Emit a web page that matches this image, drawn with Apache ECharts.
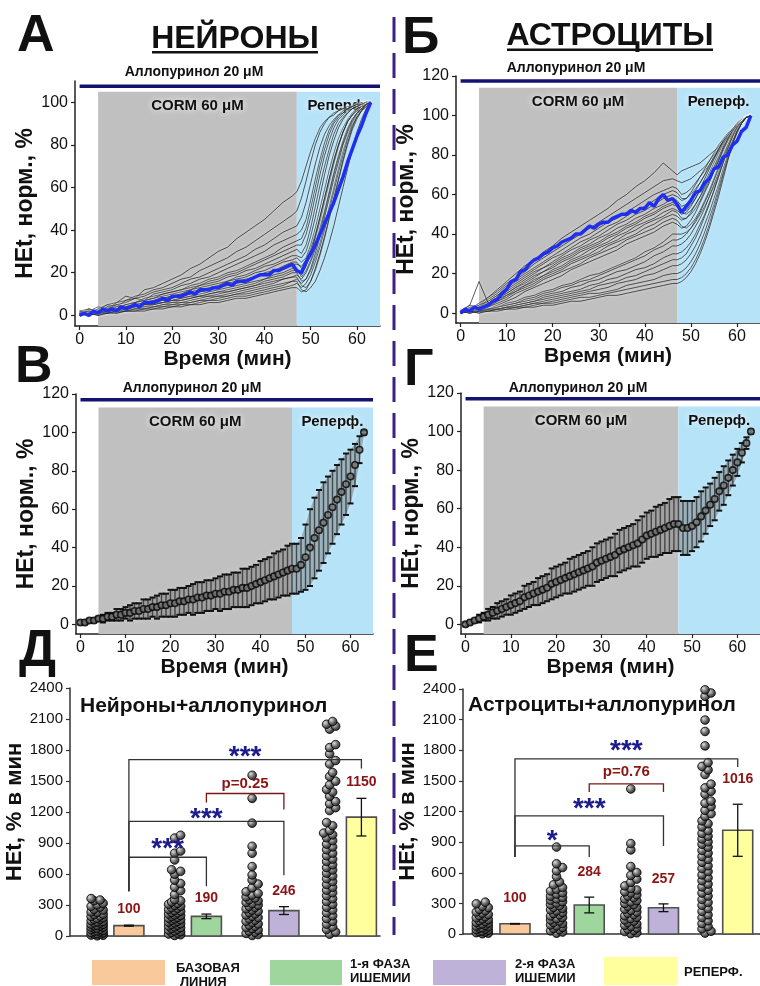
<!DOCTYPE html>
<html>
<head>
<meta charset="utf-8">
<script src="https://cdn.jsdelivr.net/npm/echarts@6/dist/echarts.min.js"></script>
<style>
html,body{margin:0;padding:0;background:#fff}
#chart{width:760px;height:986px}
</style>
</head>
<body>
<div id="chart"></div>
<script>
// ---------- data ----------
// sampling times of the single-cell traces (min)
const TRACE_TIME = [0,2,4,6,8,10,12,14,16,18,20,22,24,26,28,30,32,34,36,38,40,42,44,46,
  47,48,49,50,51,52,53,54,55,56,57,58,59,60,61,62,63];
// one-minute grid for averaged curves
const MINUTES = [0,1,2,3,4,5,6,7,8,9,10,11,12,13,14,15,16,17,18,19,20,21,22,23,24,25,26,27,28,29,30,31,
  32,33,34,35,36,37,38,39,40,41,42,43,44,45,46,47,48,49,50,51,52,53,54,55,56,57,58,59,60,61,62,63];
const TIME_TICKS = [0,10,20,30,40,50,60];
const NORM_TICKS_A = [0,20,40,60,80,100];
const NORM_TICKS = [0,20,40,60,80,100,120];

// experimental phases (min)
const PHASES = [
  {name:'CORM 60 μM', start:4, end:47},
  {name:'Реперф.', start:47, end:65}
];

// neurons: individual HEt traces, normalised to the final value
const NEURON_TRACES = [
  [1,3,2,5,6,9,8,12,13,15,17,19,22,24,27,30,32,36,39,42,45,49,53,56, 58,63,70,77,83,88,91,93,95,96,97,97,98,99,99,100,100],
  [0,2,4,3,6,7,9,10,12,13,15,17,18,21,23,25,27,30,32,35,38,41,44,47, 49,55,63,72,80,86,90,93,94,96,97,98,98,99,99,100,100],
  [2,1,3,5,4,7,8,9,11,12,13,15,17,18,20,22,24,26,28,31,33,36,39,41, 42,46,53,62,71,79,85,89,92,94,96,97,98,98,99,100,100],
  [0,3,2,4,5,6,8,7,10,11,12,14,15,17,18,20,22,24,26,28,30,33,35,37, 38,40,45,54,64,73,81,87,91,94,95,97,98,99,99,100,100],
  [1,0,2,3,5,4,6,8,9,10,11,12,14,15,17,18,20,21,23,25,27,29,32,34, 35,36,41,50,60,70,78,85,90,93,95,97,98,99,99,100,100],
  [0,1,3,2,4,5,6,7,8,10,11,12,13,14,16,17,19,20,22,24,26,28,30,32, 33,33,38,46,56,66,75,82,88,92,94,96,97,98,99,100,100],
  [2,3,1,4,3,5,6,7,8,9,10,11,12,14,15,16,18,19,21,22,24,26,28,30, 31,29,33,41,51,61,70,78,85,90,93,95,97,98,99,99,100],
  [0,2,1,3,4,4,5,6,7,8,9,10,12,13,14,15,16,18,19,21,23,24,26,28, 28,27,30,37,46,56,66,75,82,88,92,95,97,98,99,100,100],
  [1,0,2,2,3,5,4,6,7,8,9,10,11,12,13,14,16,17,18,20,21,23,25,26, 27,25,27,33,41,50,59,68,76,83,88,92,95,97,98,99,100],
  [0,1,2,3,2,4,5,6,6,7,8,9,10,11,12,13,15,16,17,18,20,21,23,25, 25,22,24,29,36,44,53,62,71,79,86,91,94,96,98,99,100],
  [1,2,0,2,3,4,4,5,6,7,8,9,10,11,12,13,14,15,16,18,19,21,22,24, 24,23,26,31,38,46,55,64,72,80,86,91,94,96,98,99,100],
  [0,1,1,2,3,3,4,5,6,6,7,8,9,10,11,12,13,14,15,16,17,19,20,22, 22,18,21,26,33,41,49,58,67,75,82,88,92,95,97,99,100],
  [2,1,2,3,2,4,4,5,5,6,7,8,9,9,10,11,12,13,14,15,17,18,19,21, 21,19,23,29,37,46,55,64,73,80,86,91,94,97,98,99,100],
  [0,0,1,2,2,3,4,4,5,6,6,7,8,9,10,11,11,12,13,14,16,17,18,20, 20,16,17,21,27,34,42,51,60,69,77,84,90,94,97,99,100],
  [1,2,1,2,3,3,4,5,5,6,7,7,8,9,9,10,11,12,13,14,15,16,17,18, 19,17,20,25,31,39,48,57,66,74,81,87,92,95,97,99,100],
  [0,1,0,1,2,3,3,4,4,5,6,6,7,8,9,9,10,11,12,13,14,15,17,18, 18,14,13,16,21,28,36,45,54,63,72,80,87,92,96,98,100],
  [1,0,1,2,1,2,3,3,4,5,5,6,6,7,8,9,9,10,11,12,13,14,15,16, 17,15,17,22,29,37,46,55,64,72,80,86,91,95,97,99,100],
  [0,1,2,1,2,2,3,3,4,4,5,5,6,7,7,8,9,10,10,11,12,13,14,16, 16,12,11,13,16,21,27,34,42,51,60,69,78,86,92,97,100],
  [1,0,1,1,2,2,2,3,3,4,4,5,5,6,7,7,8,9,9,10,11,12,13,14, 15,13,15,19,25,32,40,49,58,67,75,83,89,93,96,99,100],
  [0,1,0,1,1,2,2,2,3,3,4,4,5,5,6,6,7,8,8,9,10,11,12,13, 13,11,12,16,22,29,37,46,55,64,73,81,88,93,96,98,100]
];
// neurons: highlighted mean trace
const NEURON_MEAN_TRACE = [0,1,0,2,1,3,2,3,2,4,3,4,5,4,6,6,6,7,8,7,9,9,9,10,11,10,12,12,12,13,13,14,15,14,16,16,
  16,17,18,19,19,19,21,21,22,23,24,21,20,25,29,33,38,43,48,53,59,65,72,78,84,89,95,100];

// astrocytes: individual HEt traces
const ASTRO_TRACES = [
  [0,3,4,8,12,16,20,24,27,31,34,38,41,44,47,50,53,57,60,64,67,71,76,72, 70,72,73,74,75,76,78,80,82,84,87,89,92,95,97,99,100],
  [1,2,5,8,11,15,18,21,25,28,31,34,37,40,43,46,49,52,55,58,61,64,67,68, 67,66,67,68,70,72,74,77,80,83,86,89,92,95,97,99,100],
  [0,2,3,7,10,14,17,20,23,26,29,32,35,38,40,43,46,48,51,54,57,60,62,64, 63,60,61,63,66,69,72,75,79,82,86,89,92,95,97,99,100],
  [1,4,3,6,9,13,16,19,22,25,28,30,33,36,38,41,44,46,49,52,54,57,60,62, 61,58,58,60,63,66,70,74,78,82,86,89,92,95,97,99,100],
  [0,2,4,6,9,12,15,18,21,23,26,29,32,34,37,39,42,45,47,50,52,55,58,60, 59,57,58,61,65,69,73,77,81,85,88,91,93,95,97,99,100],
  [2,1,3,5,8,11,14,17,20,23,25,28,30,33,35,38,40,43,45,48,50,53,55,58, 57,54,55,58,62,66,70,75,79,83,87,90,93,96,98,99,100],
  [0,3,2,5,7,10,13,16,19,21,24,27,29,32,34,36,39,41,44,46,49,51,54,56, 55,52,52,55,58,62,66,71,76,81,85,89,92,95,97,99,100],
  [1,4,16,5,8,10,13,15,18,21,23,26,28,31,33,35,38,40,43,45,48,50,53,55, 54,51,50,52,55,59,63,68,73,78,83,87,91,94,97,99,100],
  [0,2,3,4,6,9,12,14,17,19,22,24,27,29,32,34,36,39,41,44,46,48,51,53, 52,50,51,54,58,63,68,73,78,83,87,90,93,96,98,99,100],
  [1,1,2,4,7,9,11,14,16,19,21,23,26,28,30,33,35,37,40,42,45,47,49,52, 51,48,48,50,53,57,62,67,72,77,82,87,91,94,97,99,100],
  [0,2,1,3,6,8,11,13,15,18,20,22,25,27,29,31,34,36,38,40,43,45,48,50, 49,47,48,51,55,59,64,69,74,79,84,88,92,95,97,99,100],
  [1,0,2,3,5,7,10,12,14,17,19,21,23,25,28,30,32,34,37,39,41,43,46,48, 47,44,43,45,48,52,57,62,68,74,80,85,90,94,97,99,100],
  [0,1,3,2,4,6,8,11,13,15,17,19,22,24,26,28,30,32,35,37,39,41,44,46, 45,43,44,47,51,56,61,66,72,77,83,88,92,95,97,99,100],
  [0,1,2,2,3,5,6,8,9,11,12,14,15,17,19,20,22,24,26,28,31,33,36,40, 40,40,41,43,46,50,54,59,64,70,76,82,87,92,96,99,100],
  [1,0,1,2,3,4,5,7,8,10,11,13,14,16,17,19,21,23,25,27,29,32,34,37, 37,38,40,43,47,51,56,61,67,73,79,85,90,94,97,99,100],
  [0,1,1,2,3,4,5,6,7,9,10,11,13,14,16,17,19,21,22,24,26,29,31,34, 34,35,37,40,44,48,53,59,65,71,78,84,89,94,97,99,100],
  [1,0,2,1,2,3,4,5,6,8,9,10,11,12,14,15,17,18,20,22,23,25,28,30, 30,31,33,36,40,45,50,56,62,69,76,83,89,93,97,99,100],
  [0,1,0,2,2,3,4,5,6,7,8,9,10,11,12,14,15,16,18,19,21,23,25,27, 27,28,30,34,38,43,49,55,62,69,76,83,89,94,97,99,100],
  [1,0,1,1,2,3,3,4,5,6,7,8,9,10,11,12,13,15,16,17,19,20,22,24, 24,25,27,30,34,39,45,51,58,65,73,80,87,92,96,99,100],
  [0,1,1,2,2,3,3,4,5,5,6,7,8,9,10,10,11,12,14,15,16,17,19,20, 20,21,23,26,30,35,41,48,55,63,71,79,86,92,96,99,100],
  [1,0,1,1,2,2,3,3,4,5,5,6,7,8,8,9,10,11,12,13,14,15,16,17, 17,18,20,23,27,32,38,45,53,61,70,78,86,92,96,99,100],
  [0,1,0,1,1,2,2,3,3,4,4,5,6,6,7,8,9,9,10,11,12,13,14,15, 15,16,18,21,25,30,36,43,51,59,68,77,85,91,96,99,100]
];
const ASTRO_MEAN_TRACE = [0,2,1,3,2,3,4,6,7,10,12,16,17,21,22,25,27,28,30,31,33,34,36,37,38,40,40,42,44,43,45,46,
  46,48,49,50,50,52,51,53,53,56,54,58,60,57,58,55,51,54,57,61,62,66,68,73,74,79,80,85,87,92,94,100];

// averaged curves (mean ± SD, one point per minute)
const NEURON_MEAN = [1,1,2,2,3,3,4,4,5,5,6,6,7,7,8,8,9,9,10,10,11,11,12,12,13,13,14,14,15,15,16,16,17,17,18,18,
  19,19,20,21,22,23,24,25,26,27,28,29,29,31,35,40,45,49,53,57,61,65,69,73,77,83,91,100];
const NEURON_SD = [1,1,1,1,1,2,2,2,3,3,3,4,4,4,5,5,5,6,6,6,7,7,7,7,7,8,8,8,8,8,8,9,9,9,9,9,10,10,10,10,
  11,11,11,12,12,12,13,13,13,14,17,20,21,21,21,20,19,18,17,16,14,11,7,1];
const ASTRO_MEAN = [0,1,2,3,4,5,6,7,8,9,10,11,12,14,15,16,17,18,19,21,22,23,24,25,26,27,28,29,30,32,33,34,35,36,
  38,39,40,41,42,44,46,47,48,49,50,51,52,52,50,50,51,53,56,59,62,65,69,72,76,80,84,89,94,100];
const ASTRO_SD = [1,1,1,2,2,3,3,4,4,4,5,5,5,6,6,6,7,7,7,8,8,8,8,9,9,9,9,9,10,10,10,10,10,11,11,11,11,11,12,12,
  12,12,13,13,13,14,14,14,14,14,13,13,13,12,11,11,10,10,9,8,7,5,3,1];

// HEt rate per cell, % per min (groups: baseline, ischemia 1, ischemia 2, reperfusion)
const NEURON_RATES = [
  [362,348,341,316,302,287,279,258,251,233,229,212,207,193,190,177,171,162,160,149,141,138,128,126,115,113,104,99,97,88,86,77,74,65,62,53,51,44,41,33,31,24,18,16,9,7,2],
  [975,948,822,801,736,641,626,598,541,508,472,438,401,352,341,329,316,307,296,288,275,268,257,246,241,229,222,213,204,198,189,180,172,166,157,151,142,134,127,119,111,104,96,88,81,73,65,58,49,42,35,27,19,12,5],
  [1555,1332,1092,868,801,672,591,542,503,466,428,412,396,379,368,351,340,325,314,299,287,276,263,250,239,227,214,203,190,179,166,153,142,130,117,106,93,82,71,59,47,36,25,14,5],
  [2076,2049,2031,2002,1852,1823,1762,1698,1664,1582,1543,1498,1462,1418,1393,1352,1301,1279,1242,1214,1098,1067,1022,996,979,951,922,889,862,834,801,776,744,721,689,662,639,608,581,554,526,498,471,443,418,389,361,334,306,278,251,224,196,168,141,114,88,63,39,18]
];
const ASTRO_RATES = [
  [312,296,271,259,242,228,215,203,191,180,169,159,148,141,130,123,114,106,99,91,85,77,71,62,57,49,44,37,30,24,19,13,8,3],
  [852,688,651,618,562,509,482,455,438,421,404,391,371,359,344,331,317,303,289,277,261,251,237,226,211,201,187,176,162,151,137,127,113,103,89,79,65,55,42,31,19,8],
  [1421,886,824,661,602,574,538,506,471,446,431,413,401,384,371,355,343,327,315,299,287,271,259,243,231,215,204,189,178,163,152,137,126,111,99,86,74,59,48,35,24,12,4],
  [2392,2361,2328,2096,1984,1843,1679,1642,1608,1562,1468,1431,1398,1369,1302,1281,1248,1211,1179,1152,1108,1081,1049,1012,986,958,931,903,879,851,818,792,758,731,702,668,641,612,579,551,522,489,461,428,401,372,338,309,281,249,221,188,161,129,102,74,51,27,9]
];
const NEURON_BAR_MEANS = [100,190,246,1150];
const NEURON_BAR_ERRS = [5,22,38,182];
const ASTRO_BAR_MEANS = [100,284,257,1016];
const ASTRO_BAR_ERRS = [3,77,38,255];
const GROUP_NAMES = ['БАЗОВАЯ\nЛИНИЯ','1-я ФАЗА\nИШЕМИИ','2-я ФАЗА\nИШЕМИИ','РЕПЕРФ.'];

// significance brackets: groups compared, bracket height, leg ends, mark
const NEURON_BRACKETS = [
  {from:0, to:1, top:762, legs:[434,482], mark:'***', markY:897},
  {from:0, to:2, top:1109, legs:[434,588], mark:'***', markY:1186},
  {from:0, to:3, top:1707, legs:[434,1620], mark:'***', markY:1784},
  {from:1, to:2, top:1379, legs:[1292,1225], mark:'p=0.25', markY:1475}
];
const ASTRO_BRACKETS = [
  {from:0, to:1, top:863, legs:[755,755], mark:'*', markY:970},
  {from:0, to:2, top:1157, legs:[755,863], mark:'***', markY:1284},
  {from:0, to:3, top:1716, legs:[755,1637], mark:'***', markY:1853},
  {from:1, to:2, top:1471, legs:[1392,1392], mark:'p=0.76', markY:1588}
];

// ---------- styling ----------
const FF = '"Liberation Sans", Arial, Helvetica, sans-serif';
const GROUP_COLORS = ['#f9c99b','#9fd69e','#bfb2d8','#ffff9e'];
const PHASE_COLORS = ['#c0c0c0','#b6e3f8'];
const AXIS_COLOR = '#222';

function timeXAxis(gi) {
  return {
    gridIndex: gi, type: 'value', min: -1, max: 65,
    axisLine: {show: true, onZero: false, lineStyle: {color: AXIS_COLOR, width: 1.5}},
    axisTick: {show: true, customValues: TIME_TICKS, length: 4, lineStyle: {color: AXIS_COLOR, width: 1.2}},
    axisLabel: {customValues: TIME_TICKS, fontSize: 16, color: '#111', fontFamily: FF, margin: 6},
    splitLine: {show: false},
    name: 'Время (мин)', nameLocation: 'middle', nameGap: 22,
    nameTextStyle: {fontSize: 21, fontWeight: 'bold', color: '#111', fontFamily: FF}
  };
}
function normYAxis(gi, max, ticks) {
  return {
    gridIndex: gi, type: 'value', min: -5, max: max,
    axisLine: {show: true, onZero: false, lineStyle: {color: AXIS_COLOR, width: 1.5}},
    axisTick: {show: true, customValues: ticks, length: 4, lineStyle: {color: AXIS_COLOR, width: 1.2}},
    axisLabel: {customValues: ticks, fontSize: 16, color: '#111', fontFamily: FF, margin: 7},
    splitLine: {show: false},
    name: 'HEt, норм., %', nameLocation: 'middle', nameGap: 33, nameRotate: 90,
    nameTextStyle: {fontSize: 23, fontWeight: 'bold', color: '#111', fontFamily: FF}
  };
}
function groupXAxis(gi) {
  return {
    gridIndex: gi, type: 'value', min: 0, max: 4,
    axisLine: {show: true, onZero: false, lineStyle: {color: '#333', width: 1.5}},
    axisTick: {show: false}, axisLabel: {show: false}, splitLine: {show: false}
  };
}
function rateYAxis(gi) {
  return {
    gridIndex: gi, type: 'value', min: 0, max: 2400, interval: 300,
    axisLine: {show: true, onZero: false, lineStyle: {color: '#333', width: 1.5}},
    axisTick: {show: true, length: 4, lineStyle: {color: '#333', width: 1.2}},
    axisLabel: {fontSize: 15, color: '#111', fontFamily: FF, margin: 7, formatter: v => String(v)},
    splitLine: {show: false},
    name: 'HEt, % в мин', nameLocation: 'middle', nameGap: 33, nameRotate: 90,
    nameTextStyle: {fontSize: 22, fontWeight: 'bold', color: '#111', fontFamily: FF}
  };
}

// shaded treatment periods with their captions
function phaseSeries(gi, top) {
  return {
    type: 'custom', xAxisIndex: gi, yAxisIndex: gi, z: 1, silent: true, clip: true,
    data: PHASES.map(p => [p.start, p.end]),
    renderItem(params, api) {
      const p = PHASES[params.dataIndex];
      const a = api.coord([p.start, top]);
      const b = api.coord([p.end, -5]);
      return {type: 'group', children: [
        {type: 'rect', shape: {x: a[0], y: a[1], width: b[0] - a[0], height: b[1] - a[1]},
          style: {fill: PHASE_COLORS[params.dataIndex]}},
        {type: 'text', x: (a[0] + b[0]) / 2, y: a[1] + 14,
          style: {text: p.name, fontSize: 15, fontWeight: 'bold', fontFamily: FF, fill: '#111',
            align: 'center', verticalAlign: 'middle', textShadowColor: '#fff', textShadowBlur: 6}}
      ]};
    }
  };
}
// allopurinol present during the whole record
function alloSeries(gi, y) {
  return {
    type: 'line', xAxisIndex: gi, yAxisIndex: gi, z: 5, silent: true, clip: false,
    data: [[0, y], [65, y]], symbol: 'none',
    lineStyle: {color: '#131371', width: 3.5}
  };
}
function traceSeries(gi, traces) {
  return traces.map(tr => ({
    type: 'line', xAxisIndex: gi, yAxisIndex: gi, z: 3, silent: true,
    data: tr.map((v, i) => [TRACE_TIME[i], v]), symbol: 'none',
    lineStyle: {color: 'rgba(12,12,12,0.85)', width: 0.8, shadowColor: 'rgba(255,255,255,0.9)', shadowBlur: 3}
  }));
}
function meanTraceSeries(gi, vals) {
  return {
    type: 'line', xAxisIndex: gi, yAxisIndex: gi, z: 4, silent: true,
    data: vals.map((v, i) => [MINUTES[i], v]), symbol: 'none',
    lineStyle: {color: '#1f2ff0', width: 3.5}
  };
}
function meanSdSeries(gi, mean, sd) {
  return [
    {
      // shaded ±SD band behind the error bars
      type: 'custom', xAxisIndex: gi, yAxisIndex: gi, z: 2, silent: true,
      data: [[MINUTES[0], mean[0]]],
      renderItem(params, api) {
        const upper = MINUTES.map((t, i) => api.coord([t, mean[i] + sd[i]]));
        const lower = MINUTES.map((t, i) => api.coord([t, mean[i] - sd[i]])).reverse();
        return {type: 'polygon', shape: {points: upper.concat(lower)},
          style: {fill: 'rgba(55,55,55,0.32)', shadowColor: 'rgba(255,255,255,0.95)', shadowBlur: 6}};
      }
    },
    {
      type: 'custom', xAxisIndex: gi, yAxisIndex: gi, z: 3, silent: true,
      data: MINUTES.map((t, i) => [t, mean[i], sd[i]]),
      renderItem(params, api) {
        const t = api.value(0), m = api.value(1), s = api.value(2);
        const hi = api.coord([t, m + s]), lo = api.coord([t, m - s]);
        return {type: 'group', children: [
          {type: 'line', shape: {x1: hi[0], y1: hi[1], x2: lo[0], y2: lo[1]},
            style: {stroke: 'rgba(30,30,30,0.7)', lineWidth: 1.4}},
          {type: 'line', shape: {x1: hi[0] - 3, y1: hi[1], x2: hi[0] + 3, y2: hi[1]},
            style: {stroke: '#111', lineWidth: 2}},
          {type: 'line', shape: {x1: lo[0] - 3, y1: lo[1], x2: lo[0] + 3, y2: lo[1]},
            style: {stroke: '#111', lineWidth: 2}}
        ]};
      }
    },
    {
      type: 'scatter', xAxisIndex: gi, yAxisIndex: gi, z: 4, silent: true,
      data: MINUTES.map((t, i) => [t, mean[i]]), symbol: 'circle', symbolSize: 6.5,
      itemStyle: {color: '#7a7a7a', borderColor: '#050505', borderWidth: 1.6}
    }
  ];
}

const DOT_FILL = new echarts.graphic.RadialGradient(0.35, 0.35, 0.7, [
  {offset: 0, color: '#dcdcdc'}, {offset: 0.5, color: '#6a6a6a'}, {offset: 1, color: '#151515'}
]);
// per-cell values laid out as a bee swarm beside each bar
function dotSeries(gi, groups, offset) {
  return {
    type: 'custom', xAxisIndex: gi, yAxisIndex: gi, z: 3, silent: true, clip: false,
    data: groups.map((g, i) => [i + offset, g[0]]),
    renderItem(params, api) {
      const vals = groups[params.dataIndex].slice().sort((a, b) => a - b);
      const cx = api.coord([params.dataIndex + offset, 0])[0];
      const placed = [];
      const steps = [0, 3, -3, 6, -6];
      vals.forEach(v => {
        const y = api.coord([0, v])[1];
        let best = 0, bestD = -1;
        for (const dx of steps) {
          let dmin = Infinity;
          for (const p of placed) {
            const d = Math.hypot(p[0] - (cx + dx), p[1] - y);
            if (d < dmin) dmin = d;
          }
          if (dmin >= 5) { best = dx; break; }
          if (dmin > bestD) { bestD = dmin; best = dx; }
        }
        placed.push([cx + best, y]);
      });
      return {type: 'group', children: placed.map(p => ({
        type: 'circle', shape: {cx: p[0], cy: p[1], r: 4.3},
        style: {fill: DOT_FILL, stroke: '#050505', lineWidth: 0.9, opacity: 0.95}
      }))};
    }
  };
}
function barSeries(gi, means, errs, offset, labelGap) {
  return {
    type: 'custom', xAxisIndex: gi, yAxisIndex: gi, z: 4, silent: true, clip: false,
    data: means.map((m, i) => [i + offset, m, errs[i]]),
    renderItem(params, api) {
      const i = params.dataIndex, x = api.value(0), m = api.value(1), e = api.value(2);
      const top = api.coord([x, m]), base = api.coord([x, 0]);
      const hi = api.coord([x, m + e]), lo = api.coord([x, m - e]);
      const w = 30, cap = 5;
      return {type: 'group', children: [
        {type: 'rect', shape: {x: top[0] - w / 2, y: top[1], width: w, height: base[1] - top[1]},
          style: {fill: GROUP_COLORS[i], stroke: '#505050', lineWidth: 1.6}},
        {type: 'line', shape: {x1: hi[0], y1: hi[1], x2: lo[0], y2: lo[1]}, style: {stroke: '#111', lineWidth: 1.3}},
        {type: 'line', shape: {x1: hi[0] - cap, y1: hi[1], x2: hi[0] + cap, y2: hi[1]}, style: {stroke: '#111', lineWidth: 1.3}},
        {type: 'line', shape: {x1: lo[0] - cap, y1: lo[1], x2: lo[0] + cap, y2: lo[1]}, style: {stroke: '#111', lineWidth: 1.3}},
        {type: 'text', x: hi[0], y: hi[1] - labelGap,
          style: {text: String(m), fontSize: 14, fontWeight: 'bold', fontFamily: FF, fill: '#8b1414',
            align: 'center', verticalAlign: 'middle'}}
      ]};
    }
  };
}
function bracketSeries(gi, brackets, offset) {
  return {
    type: 'custom', xAxisIndex: gi, yAxisIndex: gi, z: 5, silent: true, clip: false,
    data: brackets.map(b => [b.from + offset, b.top]),
    renderItem(params, api) {
      const b = brackets[params.dataIndex];
      const l = api.coord([b.from + offset, b.top]), r = api.coord([b.to + offset, b.top]);
      const lb = api.coord([0, b.legs[0]])[1], rb = api.coord([0, b.legs[1]])[1];
      const stars = b.mark.charAt(0) === '*';
      const col = stars ? '#333' : '#7a1515';
      const ty = api.coord([0, b.markY])[1] + (stars ? 6 : 0);
      return {type: 'group', children: [
        {type: 'polyline', shape: {points: [[l[0], lb], [l[0], l[1]], [r[0], r[1]], [r[0], rb]]},
          style: {stroke: col, lineWidth: 1.3, fill: null}},
        {type: 'text', x: (l[0] + r[0]) / 2, y: ty,
          style: {text: b.mark, fontSize: stars ? 28 : 15, fontWeight: 'bold', fontFamily: FF,
            fill: stars ? '#1c1c8c' : '#8b1414', align: 'center', verticalAlign: 'middle'}}
      ]};
    }
  };
}

// ---------- page furniture ----------
function txt(x, y, text, size, opts) {
  return Object.assign({type: 'text', x: x, y: y, silent: true,
    style: Object.assign({text: text, fontSize: size, fontWeight: 'bold', fontFamily: FF, fill: '#111',
      align: 'left', verticalAlign: 'middle'}, opts || {})});
}
const graphic = [
  {type: 'line', silent: true, shape: {x1: 394, y1: 17, x2: 394, y2: 935},
    style: {stroke: '#3d2080', lineWidth: 3, lineDash: [25, 11]}},
  txt(17, 37, 'А', 52), txt(402, 39, 'Б', 52),
  txt(15, 368, 'В', 52), txt(404, 371, 'Г', 52),
  txt(19, 652, 'Д', 52), txt(404, 657, 'Е', 52),
  txt(235, 39, 'НЕЙРОНЫ', 32, {align: 'center'}),
  {type: 'rect', silent: true, shape: {x: 152, y: 51, width: 166, height: 2.5}, style: {fill: '#111'}},
  txt(610, 36, 'АСТРОЦИТЫ', 32, {align: 'center'}),
  {type: 'rect', silent: true, shape: {x: 507, y: 48.5, width: 206, height: 2.5}, style: {fill: '#111'}},
  txt(194, 72, 'Аллопуринол 20 μM', 14, {align: 'center'}),
  txt(576, 68, 'Аллопуринол 20 μM', 14, {align: 'center'}),
  txt(192, 388, 'Аллопуринол 20 μM', 14, {align: 'center'}),
  txt(578, 388, 'Аллопуринол 20 μM', 14, {align: 'center'}),
  txt(80, 706, 'Нейроны+аллопуринол', 21),
  txt(468, 705, 'Астроциты+аллопуринол', 21)
];
// colour key
const KEY = [
  {box: [92, 960, 73, 25], tx: 176, ty: 968},
  {box: [270, 960, 72, 25], tx: 350, ty: 964},
  {box: [433, 960, 73, 25], tx: 515, ty: 964},
  {box: [604, 957, 73, 28], tx: 684, ty: 972}
];
KEY.forEach((k, i) => {
  graphic.push({type: 'rect', silent: true, shape: {x: k.box[0], y: k.box[1], width: k.box[2], height: k.box[3]},
    style: {fill: GROUP_COLORS[i]}});
  const lines = GROUP_NAMES[i].split('\n');
  lines.forEach((ln, j) => graphic.push(txt(k.tx + (i === 0 && j === 1 ? 4 : 0), k.ty + j * 14, ln, 13)));
});

// ---------- chart ----------
const chart = echarts.init(document.getElementById('chart'), null, {renderer: 'canvas', width: 760, height: 986});
const DOT_OFF_N = 0.35, BAR_OFF_N = 0.76, DOT_OFF_A = 0.26, BAR_OFF_A = 0.70;
chart.setOption({
  animation: false,
  backgroundColor: '#fff',
  grid: [
    {left: 75, top: 81, width: 305, height: 245},
    {left: 456, top: 76, width: 309, height: 247},
    {left: 76, top: 394, width: 297, height: 240},
    {left: 461, top: 393, width: 299, height: 241},
    {left: 70, top: 688, width: 310, height: 248},
    {left: 463, top: 689, width: 304, height: 245}
  ],
  xAxis: [timeXAxis(0), timeXAxis(1), timeXAxis(2), timeXAxis(3), groupXAxis(4), groupXAxis(5)],
  yAxis: [normYAxis(0, 110, NORM_TICKS_A), normYAxis(1, 120, NORM_TICKS), normYAxis(2, 120, NORM_TICKS),
    normYAxis(3, 120, NORM_TICKS), rateYAxis(4), rateYAxis(5)],
  graphic: graphic,
  series: [].concat(
    phaseSeries(0, 105), alloSeries(0, 107.5), traceSeries(0, NEURON_TRACES), meanTraceSeries(0, NEURON_MEAN_TRACE),
    phaseSeries(1, 114), alloSeries(1, 117.5), traceSeries(1, ASTRO_TRACES), meanTraceSeries(1, ASTRO_MEAN_TRACE),
    phaseSeries(2, 113), alloSeries(2, 117), meanSdSeries(2, NEURON_MEAN, NEURON_SD),
    phaseSeries(3, 113), alloSeries(3, 117), meanSdSeries(3, ASTRO_MEAN, ASTRO_SD),
    dotSeries(4, NEURON_RATES, DOT_OFF_N), barSeries(4, NEURON_BAR_MEANS, NEURON_BAR_ERRS, BAR_OFF_N, 16),
    bracketSeries(4, NEURON_BRACKETS, BAR_OFF_N),
    dotSeries(5, ASTRO_RATES, DOT_OFF_A), barSeries(5, ASTRO_BAR_MEANS, ASTRO_BAR_ERRS, BAR_OFF_A, 25),
    bracketSeries(5, ASTRO_BRACKETS, BAR_OFF_A)
  )
});
</script>
</body>
</html>
